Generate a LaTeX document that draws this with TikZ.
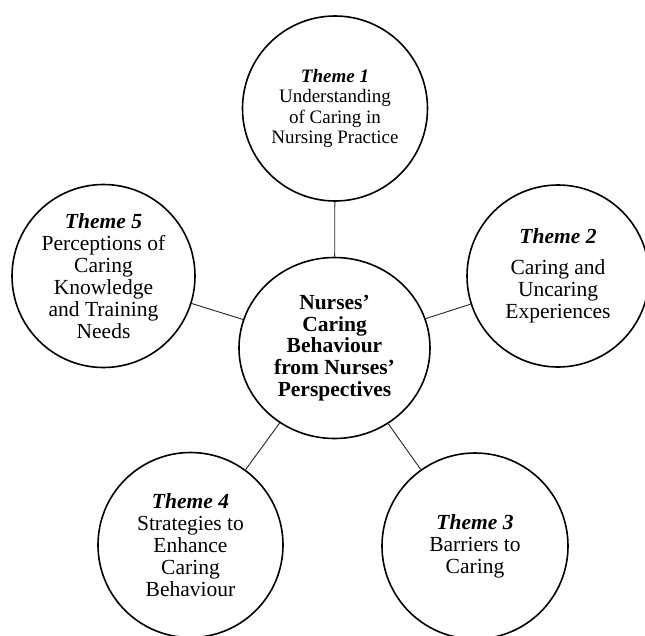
\documentclass[tikz,border=0pt]{standalone}
\usepackage{fontspec}
\setmainfont{Liberation Serif}
\usetikzlibrary{shapes.geometric}
\begin{document}
\begin{tikzpicture}[x=1pt,y=-1pt,
  themecircle/.style={circle,draw,line width=1.6pt,inner sep=0pt,align=center,
    font=\fontsize{21.5}{22}\selectfont},
  hubellipse/.style={ellipse,draw,line width=1.6pt,inner sep=0pt,align=center,
    minimum width=191pt,minimum height=181pt,font=\bfseries\fontsize{21.5}{21.7}\selectfont},
  link/.style={draw=black!85,line width=0.9pt}]
\useasboundingbox (0,0) rectangle (645,635);
\node[hubellipse] (c) at (334.5,348) {Nurses’\\Caring\\Behaviour\\from Nurses’\\Perspectives};
\node[themecircle,minimum size=185pt,font=\fontsize{19}{20.3}\selectfont] (t1) at (335,108.5)
  {\textbf{\textit{Theme 1}}\\Understanding\\of Caring in\\Nursing Practice};
\node[themecircle,minimum size=182pt] (t2) at (558,276)
  {\textbf{\textit{Theme 2}}\\[9pt]Caring and\\Uncaring\\Experiences};
\node[themecircle,minimum size=186pt] (t3) at (475,546)
  {\textbf{\textit{Theme 3}}\\Barriers to\\Caring};
\node[themecircle,minimum size=185pt] (t4) at (190.5,545)
  {\textbf{\textit{Theme 4}}\\Strategies to\\Enhance\\Caring\\Behaviour};
\node[themecircle,minimum size=183pt] (t5) at (103.5,276)
  {\textbf{\textit{Theme 5}}\\Perceptions of\\Caring\\Knowledge\\and Training\\Needs};
\draw[link] (c) -- (t1);
\draw[link] (c) -- (t2);
\draw[link] (c) -- (t3);
\draw[link] (c) -- (t4);
\draw[link] (c) -- (t5);
\end{tikzpicture}
\end{document}
